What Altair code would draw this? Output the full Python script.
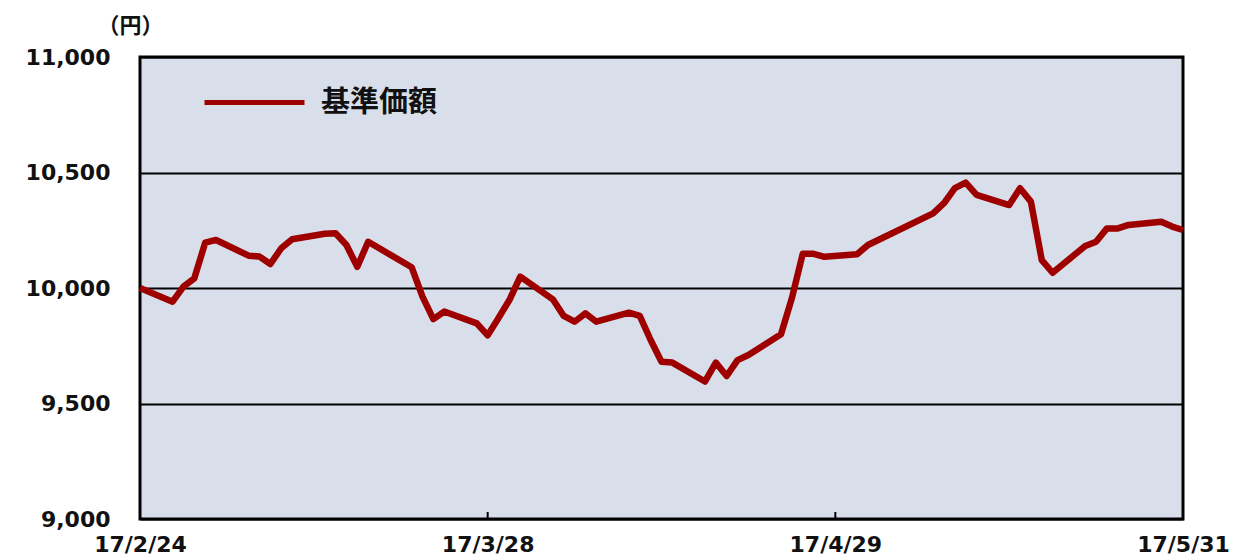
import altair as alt
import pandas as pd

dates = ["2017-02-24","2017-02-27","2017-02-28","2017-03-01","2017-03-02","2017-03-03",
         "2017-03-06","2017-03-07","2017-03-08","2017-03-09","2017-03-10",
         "2017-03-13","2017-03-14","2017-03-15","2017-03-16","2017-03-17",
         "2017-03-21","2017-03-22","2017-03-23","2017-03-24",
         "2017-03-27","2017-03-28","2017-03-29","2017-03-30","2017-03-31",
         "2017-04-03","2017-04-04","2017-04-05","2017-04-06","2017-04-07",
         "2017-04-10","2017-04-11","2017-04-12","2017-04-13","2017-04-14",
         "2017-04-17","2017-04-18","2017-04-19","2017-04-20","2017-04-21",
         "2017-04-24","2017-04-25","2017-04-26","2017-04-27","2017-04-28",
         "2017-05-01","2017-05-02",
         "2017-05-08","2017-05-09","2017-05-10","2017-05-11","2017-05-12",
         "2017-05-15","2017-05-16","2017-05-17","2017-05-18","2017-05-19",
         "2017-05-22","2017-05-23","2017-05-24","2017-05-25","2017-05-26",
         "2017-05-29","2017-05-30","2017-05-31"]
values = [10000, 9941, 10006, 10042, 10196, 10208,
          10140, 10136, 10104, 10172, 10211,
          10235, 10237, 10186, 10092, 10200,
          10090, 9963, 9865, 9898,
          9847, 9795, 9870, 9948, 10049,
          9951, 9879, 9854, 9890, 9854,
          9893, 9879, 9775, 9681, 9677,
          9595, 9677, 9619, 9688, 9710,
          9800, 9956, 10148, 10148, 10135,
          10146, 10186,
          10323, 10367, 10432, 10456, 10403,
          10359, 10432, 10374, 10121, 10066,
          10182, 10200, 10258, 10258, 10273,
          10287, 10266, 10251]
series_name = "基準価額"
tick_dates = ["2017-02-24", "2017-03-28", "2017-04-29", "2017-05-31"]
y_ticks = [9000, 9500, 10000, 10500, 11000]

df = pd.DataFrame({"date": dates, "value": values, "series": series_name})
ticks_df = pd.DataFrame({"d": tick_dates})

W, H = 1043, 462
FONT = "Noto Sans CJK JP"
NUMFONT = "DejaVu Sans"

def dt(s):
    y, m, d = map(int, s.split("-"))
    return alt.DateTime(year=y, month=m, date=d, utc=True)

xscale = alt.Scale(type="utc", domain=[dt(tick_dates[0]), dt(tick_dates[-1])])

line = alt.Chart(df).mark_line(strokeWidth=6.5, strokeJoin="round").encode(
    x=alt.X("date:T", scale=xscale,
            axis=alt.Axis(values=[dt(s) for s in tick_dates],
                          labelExpr="utcFormat(datum.value, '%y/%-m/%-d')",
                          title=None, grid=False, domain=False, ticks=False,
                          labelFont=NUMFONT, labelFontSize=22, labelFontWeight="bold",
                          labelColor="#111111", labelPadding=15, labelFlush=False)),
    y=alt.Y("value:Q", scale=alt.Scale(domain=[9000, 11000], nice=False, zero=False),
            axis=alt.Axis(values=y_ticks, format=",d", title="（円）",
                          titleAngle=0, titleX=-10, titleY=-32, titleAlign="center",
                          titleBaseline="middle", titleFont=FONT, titleFontSize=22,
                          titleFontWeight="bold", titleColor="#111111",
                          grid=True, gridColor="#000000", gridWidth=2,
                          domain=False, ticks=False, labelPadding=30,
                          labelFont=NUMFONT, labelFontSize=22, labelFontWeight="bold",
                          labelColor="#111111")),
    color=alt.Color("series:N", scale=alt.Scale(range=["#9e0000"]),
                    legend=alt.Legend(orient="none", legendX=62, legendY=-7, title=None,
                                      symbolType="stroke", symbolSize=10000,
                                      symbolStrokeWidth=5, labelFont=FONT,
                                      labelFontSize=29, labelFontWeight="bold",
                                      labelColor="#111111", labelOffset=14)),
)

tick_rules = alt.Chart(ticks_df).mark_rule(color="#000000", strokeWidth=2).encode(
    x=alt.X("d:T", scale=xscale),
    y=alt.value(H - 7),
    y2=alt.value(H),
)

chart = alt.layer(tick_rules, line).properties(
    width=W, height=H,
    autosize=alt.AutoSizeParams(type="none"),
    padding={"left": 132, "top": 49, "right": 53, "bottom": 41},
).configure_view(
    fill="#d9dfea", stroke="#000000", strokeWidth=3
)

chart.save("out.html", embed_options={"renderer": "svg", "actions": False})
